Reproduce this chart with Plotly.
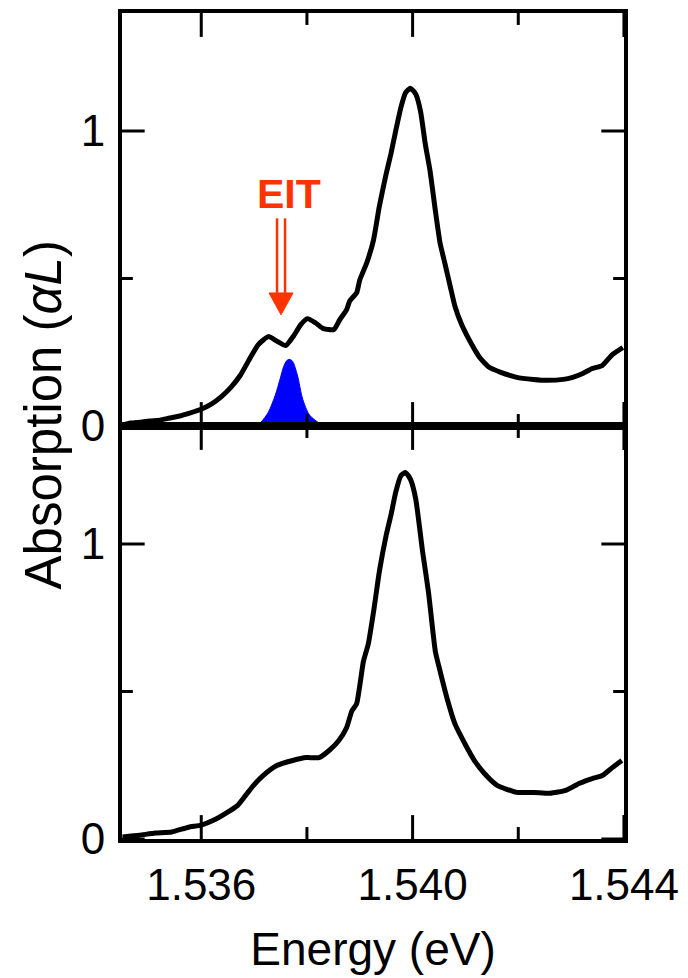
import plotly.graph_objects as go

# Probe-on absorption spectrum (upper panel), photon energy in eV
energy_on = [1.53451, 1.53466, 1.53485, 1.53503, 1.53522, 1.53540, 1.53559, 1.53578,
             1.53600, 1.53619, 1.53637, 1.53656, 1.53674, 1.53693, 1.53708, 1.53727,
             1.53741, 1.53760, 1.53775, 1.53788, 1.53801, 1.53816, 1.53831, 1.53851,
             1.53862, 1.53875, 1.53881, 1.53894, 1.53900, 1.53913, 1.53926, 1.53937,
             1.53950, 1.53959, 1.53968, 1.53978, 1.53987, 1.53996, 1.54006, 1.54015,
             1.54024, 1.54033, 1.54043, 1.54052, 1.54061, 1.54071, 1.54080, 1.54093,
             1.54112, 1.54127, 1.54145, 1.54167, 1.54197, 1.54229, 1.54253, 1.54285,
             1.54303, 1.54322, 1.54340, 1.54359, 1.54368, 1.54378, 1.54398]
absorb_on = [0.003, 0.010, 0.013, 0.017, 0.020, 0.027, 0.034, 0.044,
             0.057, 0.074, 0.098, 0.131, 0.172, 0.232, 0.276, 0.303,
             0.290, 0.273, 0.306, 0.343, 0.364, 0.350, 0.330, 0.327,
             0.360, 0.394, 0.424, 0.451, 0.495, 0.552, 0.630, 0.744,
             0.855, 0.923, 1.000, 1.081, 1.131, 1.145, 1.125, 1.067,
             0.956, 0.865, 0.731, 0.620, 0.552, 0.475, 0.407, 0.343,
             0.276, 0.232, 0.199, 0.182, 0.165, 0.158, 0.155, 0.158,
             0.165, 0.178, 0.195, 0.205, 0.222, 0.242, 0.266]

# Coupling-laser spectrum (blue filled peak)
energy_pump = [1.53704, 1.53713, 1.53727, 1.53740, 1.53749, 1.53756, 1.53762, 1.53767,
               1.53773, 1.53782, 1.53792, 1.53805, 1.53823, 1.53834]
pump_profile = [0.000, 0.013, 0.047, 0.104, 0.158, 0.202, 0.222, 0.226,
                0.219, 0.172, 0.091, 0.037, 0.010, 0.000]

# Reference absorption spectrum (lower panel)
energy_off = [1.53451, 1.53483, 1.53513, 1.53544, 1.53576, 1.53600, 1.53624, 1.53650,
              1.53669, 1.53687, 1.53699, 1.53717, 1.53743, 1.53773, 1.53799, 1.53823,
              1.53842, 1.53860, 1.53875, 1.53885, 1.53894, 1.53907, 1.53916, 1.53927,
              1.53937, 1.53950, 1.53959, 1.53968, 1.53978, 1.53987, 1.53996, 1.54006,
              1.54019, 1.54030, 1.54043, 1.54052, 1.54065, 1.54080, 1.54099, 1.54117,
              1.54136, 1.54160, 1.54197, 1.54229, 1.54260, 1.54290, 1.54316, 1.54340,
              1.54359, 1.54378, 1.54396]
absorb_off = [0.007, 0.013, 0.020, 0.024, 0.040, 0.047, 0.064, 0.091,
              0.114, 0.155, 0.182, 0.215, 0.249, 0.266, 0.276, 0.276,
              0.300, 0.333, 0.377, 0.434, 0.458, 0.603, 0.660, 0.781,
              0.906, 1.030, 1.098, 1.175, 1.232, 1.242, 1.219, 1.152,
              0.973, 0.838, 0.636, 0.569, 0.478, 0.391, 0.323, 0.266,
              0.222, 0.182, 0.158, 0.158, 0.155, 0.165, 0.189, 0.205,
              0.215, 0.242, 0.266]

x_range = [1.5345, 1.544001]
x_major = [1.536, 1.540, 1.544]
x_major_text = ["1.536", "1.540", "1.544"]
x_minor = [1.538, 1.542]
y_range = [0, 1.4]
y_major = [0, 1]
y_major_text = ["0", "1"]
y_minor = [0.5]

eit_energy = 1.53751
eit_label = "EIT"
eit_color = "#ff3300"

FONT = "Liberation Sans, Arial, sans-serif"
W, H = 688, 978
MARGIN = dict(l=122, r=57, t=9, b=139)
MAJOR_LEN, MINOR_LEN, TICK_W = 24, 12, 3

# size of one screen pixel in axis units (each panel is half of the plot height)
px_x = (x_range[1] - x_range[0]) / (W - MARGIN["l"] - MARGIN["r"])
px_y = (y_range[1] - y_range[0]) / ((H - MARGIN["t"] - MARGIN["b"]) / 2)

fig = go.Figure()

fig.add_trace(go.Scatter(x=energy_pump, y=pump_profile, mode="lines", xaxis="x", yaxis="y",
                         line=dict(color="#0000ff", width=1, shape="spline", smoothing=0.8),
                         fill="tozeroy", fillcolor="#0000ff", showlegend=False))
fig.add_trace(go.Scatter(x=energy_on, y=absorb_on, mode="lines", xaxis="x", yaxis="y",
                         line=dict(color="black", width=5, shape="spline", smoothing=0.5),
                         showlegend=False))
fig.add_trace(go.Scatter(x=energy_off, y=absorb_off, mode="lines", xaxis="x2", yaxis="y2",
                         line=dict(color="black", width=5, shape="spline", smoothing=0.5),
                         showlegend=False))


def tick_segments():
    """Inward tick marks on all four edges of a panel, as broken line segments."""
    xs, ys = [], []
    for vals, n in ((x_major, MAJOR_LEN), (x_minor, MINOR_LEN)):
        for v in vals:
            xs += [v, v, None, v, v, None]
            ys += [y_range[0], y_range[0] + n * px_y, None,
                   y_range[1], y_range[1] - n * px_y, None]
    for vals, n in ((y_major, MAJOR_LEN - 1), (y_minor, MINOR_LEN - 1)):
        for v in vals:
            xs += [x_range[0], x_range[0] + n * px_x, None,
                   x_range[1], x_range[1] - n * px_x, None]
            ys += [v, v, None, v, v, None]
    return xs, ys


tx, ty = tick_segments()
for xa, ya in (("x", "y"), ("x2", "y2")):
    fig.add_trace(go.Scatter(x=tx, y=ty, mode="lines", xaxis=xa, yaxis=ya,
                             line=dict(color="black", width=TICK_W),
                             hoverinfo="skip", showlegend=False))


def x_axis(anchor, labels):
    return dict(
        anchor=anchor, domain=[0, 1], range=x_range,
        showline=True, linewidth=4, linecolor="black", mirror=True, ticks="",
        tickmode="array", tickvals=x_major, ticktext=x_major_text,
        showticklabels=labels, showgrid=False, zeroline=False,
        tickfont=dict(family=FONT, size=44, color="black"),
    )


def y_axis(anchor, domain):
    return dict(
        anchor=anchor, domain=domain, range=y_range,
        showline=True, linewidth=4, linecolor="black", mirror=True, ticks="",
        tickmode="array", tickvals=y_major, ticktext=y_major_text,
        showgrid=False, zeroline=False, ticklabelstandoff=4,
        tickfont=dict(family=FONT, size=44, color="black"),
    )


xa_bottom = x_axis("y2", True)
xa_bottom["ticklabelstandoff"] = 4
xa_bottom["title"] = dict(text="Energy (eV)", font=dict(family=FONT, size=46, color="black"),
                          standoff=26)

fig.update_layout(
    xaxis=x_axis("y", False),
    yaxis=y_axis("x", [0.5, 1]),
    xaxis2=xa_bottom,
    yaxis2=y_axis("x2", [0, 0.5]),
)

# Arrow marking the transparency dip
arrow_top, arrow_base, arrow_tip = 0.704, 0.451, 0.377
for dx in (-4, 4):
    fig.add_shape(type="line", xref="x", yref="y", xsizemode="pixel", xanchor=eit_energy,
                  x0=dx, x1=dx, y0=arrow_base, y1=arrow_top,
                  line=dict(color=eit_color, width=2.5))
fig.add_shape(type="path", xref="x", yref="y", xsizemode="pixel", xanchor=eit_energy,
              path=f"M -12 {arrow_base} L 12 {arrow_base} L 0 {arrow_tip} Z",
              fillcolor=eit_color, line=dict(color=eit_color, width=1))

fig.add_annotation(x=eit_energy, y=0.785, xref="x", yref="y", text=f"<b>{eit_label}</b>",
                   showarrow=False, xshift=8,
                   font=dict(family=FONT, size=41, color=eit_color))

fig.add_annotation(x=-0.157, y=0.513, xref="paper", yref="paper",
                   text="Absorption (<i>αL</i>)", textangle=-90, showarrow=False,
                   xanchor="center", yanchor="middle",
                   font=dict(family=FONT, size=51, color="black"))

fig.update_layout(
    width=W, height=H, margin=MARGIN,
    plot_bgcolor="white", paper_bgcolor="white",
    showlegend=False,
)

fig.write_html("out.html")
